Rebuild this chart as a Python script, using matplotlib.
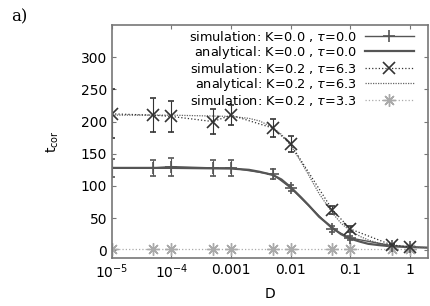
import matplotlib
matplotlib.use("Agg")
import matplotlib.pyplot as plt
import numpy as np

# simulation D values
D_sim = [1e-5, 5e-5, 1e-4, 5e-4, 1e-3, 5e-3, 1e-2, 5e-2, 1e-1, 0.5, 1.0]

# K=0.0, tau=0.0 simulation
t_k0 = [128, 128, 130, 128, 128, 118, 97, 33, 19, 7, 5]
e_k0 = [14, 12, 14, 12, 12, 8, 5, 4, 3, 2, 1]

# K=0.2, tau=6.3 simulation
t_k2 = [212, 210, 208, 200, 210, 190, 165, 63, 33, 8, 5]
e_k2 = [38, 26, 24, 20, 16, 14, 12, 6, 4, 2, 1]

# K=0.2, tau=3.3 simulation
t_k2b = [2, 2, 2, 2, 2, 2, 2, 2, 2, 2, 2]

# analytical curves
D_an = [1e-5, 1e-4, 1e-3, 2e-3, 3e-3, 5e-3, 7e-3, 1e-2, 1.5e-2, 2e-2, 3e-2,
        5e-2, 7e-2, 1e-1, 0.15, 0.2, 0.3, 0.5, 1.0, 2.0]
an_k0 = [128, 128, 127, 125, 122, 117, 110, 98, 82, 70, 52,
         35, 25, 18, 13, 10, 8, 6, 5, 4]
an_k2 = [210, 210, 208, 205, 201, 191, 180, 163, 137, 117, 88,
         58, 42, 30, 21, 16, 11, 7, 5, 4]

fig = plt.figure(figsize=(4.3, 3.06), dpi=100)
ax = fig.add_axes([0.26, 0.157, 0.735, 0.761])

h1 = ax.errorbar(D_sim, t_k0, yerr=e_k0, color="#555555", marker="+", ms=9, mew=1.2,
                 lw=1.0, ls="-", elinewidth=0.8, capsize=2,
                 label=r"simulation: K=0.0 , $\tau$=0.0")
h2, = ax.plot(D_an, an_k0, color="#555555", lw=1.6, label=r"analytical: K=0.0 , $\tau$=0.0")
h3 = ax.errorbar(D_sim, t_k2, yerr=e_k2, color="#333333", marker="x", ms=8, mew=1.2,
                 lw=0.9, ls=":", elinewidth=0.8, capsize=2,
                 label=r"simulation: K=0.2 , $\tau$=6.3")
h4, = ax.plot(D_an, an_k2, color="#666666", lw=0.9, ls=(0, (1, 1)),
              label=r"analytical: K=0.2 , $\tau$=6.3")
h5, = ax.plot(D_sim, t_k2b, color="#aaaaaa", marker=(8, 2, 0), ms=9, mew=1.0,
              lw=0.9, ls=":", label=r"simulation: K=0.2 , $\tau$=3.3")

ax.set_xscale("log")
ax.set_xlim(1e-5, 2)
ax.set_ylim(-12, 350)
ax.set_xticks([1e-5, 1e-4, 1e-3, 1e-2, 1e-1, 1])
ax.set_xticklabels([r"$10^{-5}$", r"$10^{-4}$", "0.001", "0.01", "0.1", "1"])
ax.set_yticks([0, 50, 100, 150, 200, 250, 300])
ax.minorticks_off()
ax.tick_params(direction="in", length=3, labelsize=10, color="#777777",
               top=True, right=True)
for s in ax.spines.values():
    s.set_color("#777777")
    s.set_linewidth(1.2)

ax.set_xlabel("D", fontsize=10)
ax.set_ylabel(r"t$_{\rm cor}$", fontsize=10, labelpad=14)
fig.text(0.025, 0.93, "a)", fontsize=12, family="DejaVu Serif")

ax.legend(handles=[h1[0], h2, h3[0], h4, h5],
          labels=[h1.get_label(), h2.get_label(), h3.get_label(),
                  h4.get_label(), h5.get_label()],
          loc="upper right", bbox_to_anchor=(0.955, 0.985), frameon=False,
          markerfirst=False, fontsize=9.3, handlelength=3.8, labelspacing=0.0,
          borderaxespad=0.0, handletextpad=0.6, borderpad=0.0)

fig.savefig("out.png", dpi=100)
